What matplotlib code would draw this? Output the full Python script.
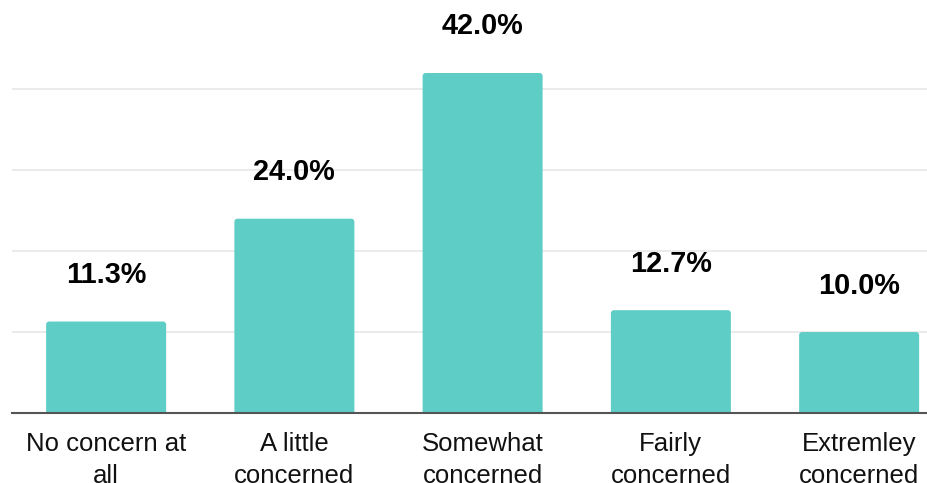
import matplotlib
matplotlib.use("Agg")
import matplotlib.pyplot as plt
from matplotlib.patches import FancyBboxPatch

categories = ["No concern at\nall", "A little\nconcerned", "Somewhat\nconcerned",
              "Fairly\nconcerned", "Extremley\nconcerned"]
values = [11.3, 24.0, 42.0, 12.7, 10.0]
labels = ["11.3%", "24.0%", "42.0%", "12.7%", "10.0%"]

plt.rcParams['font.family'] = ['Liberation Sans', 'DejaVu Sans']

W, H = 928, 483
fig = plt.figure(figsize=(W / 100, H / 100), dpi=100)
left_px, right_px, bottom_px, top_px = 12, 928, 413, 0
ax = fig.add_axes([left_px / W, 1 - bottom_px / H, (right_px - left_px) / W, (bottom_px - top_px) / H])

spacing = 188.25
ypx = 340 / 42.0
x = list(range(len(values)))
bars = ax.bar(x, values, width=120 / spacing, color="#5ECDC6", zorder=3)
ax.set_xlim(-0.5, -0.5 + (right_px - left_px) / spacing)
ax.set_ylim(0, (bottom_px - top_px) / ypx)

# rounded top corners
r_px = 3.0
for b in bars:
    x0, w, h = b.get_x(), b.get_width(), b.get_height()
    fb = FancyBboxPatch((x0, -2), w, h + 2,
                        boxstyle=f"round,pad=0,rounding_size={r_px / spacing}",
                        mutation_aspect=(r_px / ypx) / (r_px / spacing),
                        facecolor="#5ECDC6", edgecolor="none", zorder=3)
    ax.add_patch(fb)
    b.set_visible(False)

ax.set_yticks([10, 20, 30, 40])
ax.yaxis.grid(True, color="#e8e8e8", linewidth=1.2, zorder=0)
ax.tick_params(axis='y', left=False, labelleft=False)
ax.set_xticks(x)
ax.set_xticklabels(categories, fontsize=18.5, color="#111111", linespacing=1.42)
ax.tick_params(axis='x', length=0, pad=13.5)

for s in ["top", "right", "left"]:
    ax.spines[s].set_visible(False)
ax.spines["bottom"].set_color("#555555")
ax.spines["bottom"].set_linewidth(1.5)
ax.spines["bottom"].set_zorder(4)

for xi, v, lab in zip(x, values, labels):
    ax.annotate(lab, (xi, v), xytext=(0, 33.5), textcoords="offset points",
                ha="center", va="center", fontsize=20.8, fontweight="bold", color="#000000")

fig.savefig("out.png", dpi=100)
